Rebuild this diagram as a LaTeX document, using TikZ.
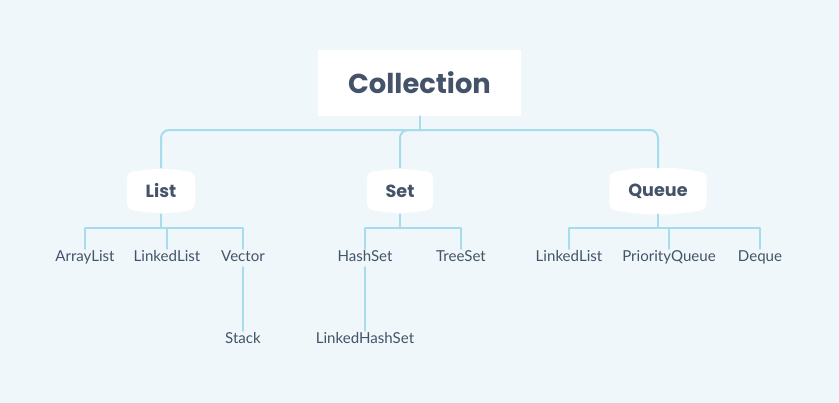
\documentclass[tikz,border=0pt]{standalone}
\usepackage{fontspec}
\setmainfont{Lato}
\newfontfamily\headfont{Poppins}
\definecolor{bgblue}{HTML}{EFF7FA}
\definecolor{wire}{HTML}{A6DCEC}
\definecolor{ink}{HTML}{445369}
\begin{document}
\begin{tikzpicture}[x=0.75pt,y=-0.75pt,line cap=round,line join=round,
  wired/.style={draw=wire,line width=1.5pt},
  rootbox/.style={fill=white,minimum width=152pt,minimum height=49.5pt,inner sep=0pt,
    text=ink,font=\headfont\bfseries\fontsize{20.5}{23}\selectfont},
  barrel/.style={minimum height=34.5pt,inner sep=0pt,text=ink,
    font=\headfont\bfseries\fontsize{13.2}{15}\selectfont,
    path picture={\fill[white,rounded corners=4pt]
      ([yshift=-3.5pt]path picture bounding box.north west) to[bend left=10]
      ([yshift=-3.5pt]path picture bounding box.north east) --
      ([yshift=3.5pt]path picture bounding box.south east) to[bend left=10]
      ([yshift=3.5pt]path picture bounding box.south west) -- cycle;}},
  leaf/.style={inner sep=1.5pt,text height=8pt,text depth=2.4pt,text=ink,
    font=\fontsize{11.3}{13}\selectfont}]
  \fill[bgblue] (0,0) rectangle (839,403);
  \useasboundingbox (0,0) rectangle (839,403);
  % root and groups
  \node[rootbox] (coll) at (419.5,83) {Collection};
  \node[barrel,minimum width=51pt] (list) at (161,191) {List};
  \node[barrel,minimum width=49.5pt] (set) at (400,191) {Set};
  \node[barrel,minimum width=73pt] (queue) at (658,191) {Queue};
  % leaves
  \node[leaf] (arraylist) at (85,258) {ArrayList};
  \node[leaf] (linkedlist) at (167,258) {LinkedList};
  \node[leaf] (vector) at (243,258) {Vector};
  \node[leaf] (stack) at (243,340) {Stack};
  \node[leaf] (hashset) at (365,258) {HashSet};
  \node[leaf] (treeset) at (461,258) {TreeSet};
  \node[leaf] (linkedhashset) at (365,340) {LinkedHashSet};
  \node[leaf] (qlinkedlist) at (569,258) {LinkedList};
  \node[leaf] (priorityqueue) at (669,258) {PriorityQueue};
  \node[leaf] (deque) at (760,258) {Deque};
  % buses
  \coordinate (rootbus) at (419.5,130);
  \coordinate (listbus) at (161,228);
  \coordinate (setbus) at (400,228);
  \coordinate (queuebus) at (658,228);
  % root connectors
  \draw[wired] (coll.south) -- (rootbus);
  \draw[wired,rounded corners=6pt] (list.north) |- (rootbus) -| (queue.north);
  \draw[wired,rounded corners=6pt] (rootbus) -| (set.north);
  % group connectors
  \draw[wired] (list.south) -- (listbus);
  \draw[wired] (arraylist.north) |- (listbus) -| (vector.north);
  \draw[wired] (linkedlist.north) -- (linkedlist.north |- listbus);
  \draw[wired] (vector.south) -- (stack.north);
  \draw[wired] (set.south) -- (setbus);
  \draw[wired] (hashset.north) |- (setbus) -| (treeset.north);
  \draw[wired] (hashset.south) -- (linkedhashset.north);
  \draw[wired] (queue.south) -- (queuebus);
  \draw[wired] (qlinkedlist.north) |- (queuebus) -| (deque.north);
  \draw[wired] (priorityqueue.north) -- (priorityqueue.north |- queuebus);
\end{tikzpicture}
\end{document}
